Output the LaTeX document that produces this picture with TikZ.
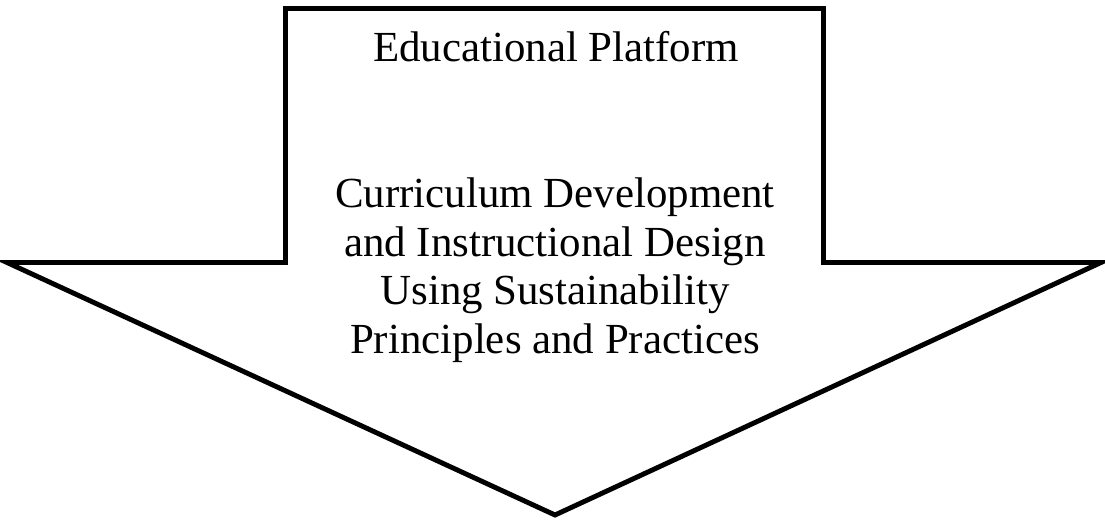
\documentclass[tikz,border=0pt]{standalone}
\usepackage{fontspec}
\setmainfont{Liberation Serif}
\usetikzlibrary{positioning}

\begin{document}
\begin{tikzpicture}[x=0.025cm, y=-0.025cm,
    bigarrow/.style={draw=black, line width=3.5pt, fill=white, line join=miter},
    label/.style={font=\fontsize{30.5}{34.5}\selectfont, align=center, inner sep=0pt, anchor=base}
]
\useasboundingbox (0,0) rectangle (1105,523);

% outline of the arrow
\coordinate (tl) at (285.5,8.5);
\coordinate (tr) at (823.5,8.5);
\coordinate (sr) at (823.5,262.5);
\coordinate (wr) at (1101,262.5);
\coordinate (tip) at (555,515);
\coordinate (wl) at (7,262.5);
\coordinate (sl) at (285.5,262.5);
\draw[bigarrow] (tl) -- (tr) -- (sr) -- (wr) -- (tip) -- (wl) -- (sl) -- cycle;

% Labels (base = last line)
\node[label] (platform) at (556,61.5) {Educational Platform};
\node[label] (curriculum) at (555,353.5) {Curriculum Development\\and Instructional Design\\Using Sustainability\\Principles and Practices};

\end{tikzpicture}
\end{document}
